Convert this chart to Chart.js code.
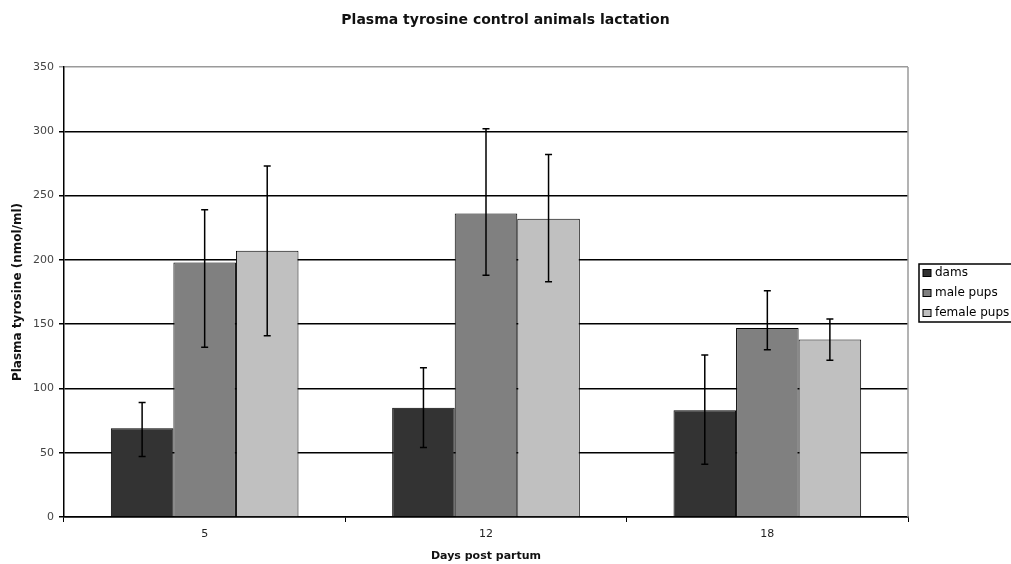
<!DOCTYPE html>
<html>
<head>
<meta charset="utf-8">
<script src="https://cdn.jsdelivr.net/npm/chart.js@4"></script>
<style>
  html, body { margin: 0; padding: 0; background: #fff; }
  #wrap { width: 1011px; height: 564px; position: relative; }
</style>
</head>
<body>
<div id="wrap"><canvas id="c" width="1011" height="564"></canvas></div>
<script>
// ---- data ----
const categories = ['5', '12', '18'];
const seriesNames = ['dams', 'male pups', 'female pups'];
const damsValues = [69, 85, 83];
const maleValues = [198, 236, 147];
const femaleValues = [207, 232, 138];
const damsErrHigh = [89, 116, 126];
const damsErrLow = [47, 54, 41];
const maleErrHigh = [239, 302, 176];
const maleErrLow = [132, 188, 130];
const femaleErrHigh = [273, 282, 154];
const femaleErrLow = [141, 183, 122];
const yTicks = [0, 50, 100, 150, 200, 250, 300, 350];

const FONT = "'DejaVu Sans', 'Liberation Sans', Arial, sans-serif";

const errorBarPlugin = {
  id: 'errorBars',
  afterDatasetsDraw(chart) {
    const ctx = chart.ctx;
    const y = chart.scales.y;
    ctx.save();
    ctx.strokeStyle = '#000';
    ctx.lineWidth = 1.5;
    chart.data.datasets.forEach((ds, i) => {
      const meta = chart.getDatasetMeta(i);
      meta.data.forEach((bar, j) => {
        const x = bar.x;
        const yh = y.getPixelForValue(ds.errHigh[j]);
        const yl = y.getPixelForValue(ds.errLow[j]);
        ctx.beginPath();
        ctx.moveTo(x, yh); ctx.lineTo(x, yl);
        ctx.moveTo(x - 3.5, yh); ctx.lineTo(x + 3.5, yh);
        ctx.moveTo(x - 3.5, yl); ctx.lineTo(x + 3.5, yl);
        ctx.stroke();
      });
    });
    ctx.restore();
  }
};

const frameAndLegendPlugin = {
  id: 'frameLegend',
  afterDraw(chart) {
    const ctx = chart.ctx;
    const a = chart.chartArea;
    ctx.save();
    // right border of plot
    ctx.strokeStyle = '#9a9a9a';
    ctx.lineWidth = 1.5;
    ctx.beginPath();
    ctx.moveTo(a.right, a.top); ctx.lineTo(a.right, a.bottom);
    ctx.stroke();
    // legend box
    const lx = a.right + 11;
    const cy = (a.top + a.bottom) / 2;
    const lh = 58;
    const ly = cy - lh / 2 + 1;
    ctx.strokeStyle = '#000';
    ctx.lineWidth = 1.5;
    ctx.strokeRect(lx, ly, 120, lh);
    ctx.font = '12px ' + FONT;
    ctx.textBaseline = 'middle';
    ctx.textAlign = 'left';
    chart.data.datasets.forEach((ds, i) => {
      const yy = ly + 9 + i * 20;
      ctx.fillStyle = ds.backgroundColor;
      ctx.fillRect(lx + 4, yy - 3.5, 8, 7);
      ctx.strokeStyle = '#000';
      ctx.lineWidth = 1;
      ctx.strokeRect(lx + 4, yy - 3.5, 8, 7);
      ctx.fillStyle = '#000';
      ctx.fillText(ds.label, lx + 16, yy);
    });
    ctx.restore();
  }
};

new Chart(document.getElementById('c'), {
  type: 'bar',
  data: {
    labels: categories,
    datasets: [
      { label: seriesNames[0], data: damsValues, errHigh: damsErrHigh, errLow: damsErrLow,
        backgroundColor: '#333333', borderColor: '#000', borderWidth: 1 },
      { label: seriesNames[1], data: maleValues, errHigh: maleErrHigh, errLow: maleErrLow,
        backgroundColor: '#808080', borderColor: '#000', borderWidth: 1 },
      { label: seriesNames[2], data: femaleValues, errHigh: femaleErrHigh, errLow: femaleErrLow,
        backgroundColor: '#c0c0c0', borderColor: '#000', borderWidth: 1 }
    ]
  },
  options: {
    responsive: false,
    animation: false,
    devicePixelRatio: 1,
    layout: { padding: { left: 0, right: 0, top: 0, bottom: 0 } },
    datasets: { bar: { categoryPercentage: 0.667, barPercentage: 1.0 } },
    plugins: {
      legend: { display: false },
      tooltip: { enabled: false },
      title: {
        display: true,
        text: 'Plasma tyrosine control animals lactation',
        color: '#111',
        font: { family: FONT, size: 14, weight: 'bold', lineHeight: 1.2 },
        padding: { top: 12, bottom: 38.2 }
      }
    },
    scales: {
      x: {
        grid: { display: true, drawOnChartArea: false, offset: true, color: '#000', tickLength: 5, lineWidth: 1 },
        border: { display: true, color: '#000', width: 1.5 },
        ticks: { color: '#222', font: { family: FONT, size: 11 }, padding: 6, maxRotation: 0 },
        title: { display: true, text: 'Days post partum', color: '#111',
                 font: { family: FONT, size: 11, weight: 'bold', lineHeight: 1.2 }, padding: { top: 0, bottom: 1 } },
        afterFit(s) { s.height = 47; }
      },
      y: {
        min: 0, max: 350,
        afterBuildTicks(s) { s.ticks = yTicks.map(v => ({ value: v })); },
        grid: {
          color: (c) => (c.tick && c.tick.value === 350 ? '#9a9a9a' : '#000'),
          lineWidth: 1.5, tickLength: 5, drawTicks: true
        },
        border: { display: true, color: '#000', width: 1.5 },
        ticks: { color: '#444', font: { family: FONT, size: 11 }, padding: 5 },
        title: { display: true, text: 'Plasma tyrosine (nmol/ml)', color: '#111',
                 font: { family: FONT, size: 12, weight: 'bold', lineHeight: 1.2 }, padding: { top: 11, bottom: 0 } },
        afterFit(s) { s.width = 64; }
      },
      legendSpace: {
        type: 'linear', position: 'right', display: true, min: 0, max: 350,
        grid: { display: false, drawTicks: false },
        border: { display: false },
        ticks: { display: false },
        afterFit(s) { s.width = 103; }
      }
    }
  },
  plugins: [errorBarPlugin, frameAndLegendPlugin]
});
</script>
</body>
</html>
